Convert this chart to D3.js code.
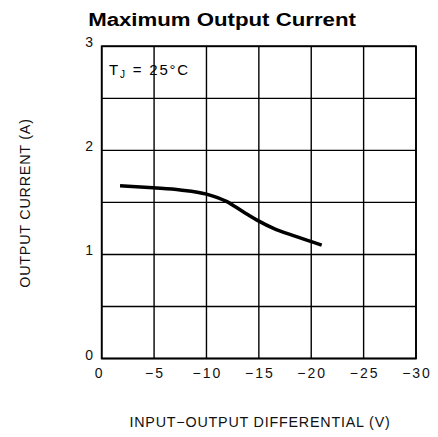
<!DOCTYPE html>
<html>
<head>
<meta charset="utf-8">
<script src="https://cdn.jsdelivr.net/npm/d3@7"></script>
<style>
  html, body { margin: 0; padding: 0; background: #fff; }
  svg { display: block; }
  .tick-label { font-family: "Liberation Sans", Arial, sans-serif; font-size: 14px; fill: #111; letter-spacing: 2px; }
  .axis-title { font-family: "Liberation Sans", Arial, sans-serif; font-size: 14.3px; fill: #111; letter-spacing: 0.8px; }
</style>
</head>
<body>
<svg id="chart" width="438" height="437"></svg>
<script>
// Input-output differential (V) and the max output current (A) at Tj = 25°C
const differential = [-1.75, -4.9, -7.5, -10, -11.9, -13.5, -15, -16.4, -18.3, -21];
const outputCurrent = [1.66, 1.64, 1.62, 1.58, 1.51, 1.41, 1.32, 1.25, 1.18, 1.09];

const xTicks = [0, -5, -10, -15, -20, -25, -30];
const yTicks = [0, 1, 2, 3];
const yGrid = [0, 0.5, 1, 1.5, 2, 2.5, 3];

const svg = d3.select("#chart");
const plotLeft = 101.7, plotRight = 416, plotTop = 46.3, plotBottom = 358.5;

const x = d3.scaleLinear().domain([0, -30]).range([plotLeft, plotRight]);
const y = d3.scaleLinear().domain([0, 3]).range([plotBottom, plotTop]);

// Title (slightly widened bold face)
svg.append("text")
  .attr("transform", "translate(222,26) scale(1.17,1)")
  .attr("text-anchor", "middle")
  .style("font-family", "'Liberation Sans', Arial, sans-serif")
  .style("font-weight", "bold")
  .style("font-size", "19px")
  .text("Maximum Output Current");

// Grid
const grid = svg.append("g").attr("stroke", "#000").attr("stroke-width", 1.4);
grid.selectAll("line.v").data(xTicks).join("line")
  .attr("class", "v")
  .attr("x1", d => x(d)).attr("x2", d => x(d))
  .attr("y1", plotTop).attr("y2", plotBottom);
grid.selectAll("line.h").data(yGrid).join("line")
  .attr("class", "h")
  .attr("x1", plotLeft).attr("x2", plotRight)
  .attr("y1", d => y(d)).attr("y2", d => y(d));

// Frame
svg.append("rect")
  .attr("x", plotLeft).attr("y", plotTop)
  .attr("width", plotRight - plotLeft).attr("height", plotBottom - plotTop)
  .attr("fill", "none").attr("stroke", "#000").attr("stroke-width", 1.8);

// Tick labels
svg.append("g").selectAll("text").data(xTicks).join("text")
  .attr("class", "tick-label")
  .attr("x", d => x(d) + (d === 0 ? -2 : 1))
  .attr("y", 378)
  .attr("text-anchor", "middle")
  .text(d => d === 0 ? "0" : "\u2212" + Math.abs(d));

svg.append("g").selectAll("text").data(yTicks).join("text")
  .attr("class", "tick-label")
  .attr("x", 93)
  .attr("y", d => y(d) + 1)
  .attr("text-anchor", "end")
  .style("letter-spacing", "0px")
  .text(d => d);

// Axis titles
svg.append("text")
  .attr("class", "axis-title")
  .attr("x", 260).attr("y", 427)
  .attr("text-anchor", "middle")
  .text("INPUT\u2212OUTPUT DIFFERENTIAL (V)");

svg.append("text")
  .attr("class", "axis-title")
  .attr("transform", "translate(30,203) rotate(-90)")
  .attr("text-anchor", "middle")
  .text("OUTPUT CURRENT (A)");

// Temperature annotation
const ann = svg.append("text")
  .attr("x", 109).attr("y", 75)
  .style("font-family", "'Liberation Sans', Arial, sans-serif")
  .style("font-size", "15px")
  .style("letter-spacing", "1.8px");
ann.append("tspan").text("T");
ann.append("tspan").attr("dy", 3).style("font-size", "10px").text("J");
ann.append("tspan").attr("dy", -3).text(" = 25\u00B0C");

// Current curve
const line = d3.line()
  .x((d, i) => x(differential[i]))
  .y(d => y(d))
  .curve(d3.curveMonotoneX);

svg.append("path")
  .datum(outputCurrent)
  .attr("d", line)
  .attr("fill", "none")
  .attr("stroke", "#000")
  .attr("stroke-width", 3.5)
  .attr("stroke-linecap", "butt");
</script>
</body>
</html>
